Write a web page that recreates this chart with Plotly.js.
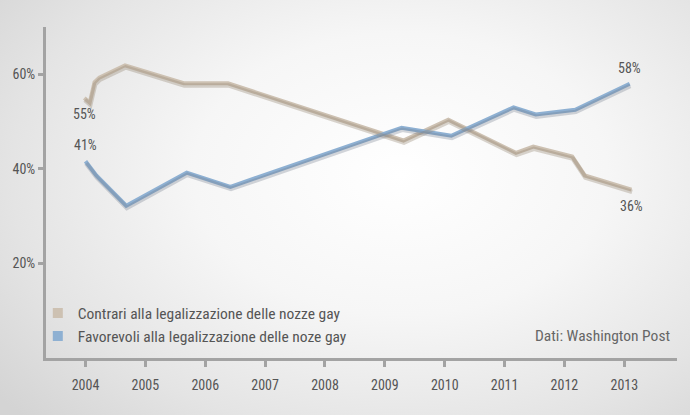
<!DOCTYPE html>
<html>
<head>
<meta charset="utf-8">
<script src="https://cdn.plot.ly/plotly-3.0.1.min.js"></script>
<style>
  html, body { margin: 0; padding: 0; }
  body {
    width: 690px; height: 415px; overflow: hidden;
    background: radial-gradient(ellipse 75% 85% at 58% 42%, #ffffff 0%, #f6f6f6 40%, #e4e4e4 75%, #d4d4d4 100%);
  }
  #chart { width: 690px; height: 415px; }
</style>
</head>
<body>
<div id="chart"></div>
<script>
// sondaggi Washington Post (anno decimale)
const contrariAnni = [2003.98, 2004.07, 2004.15, 2004.23, 2004.66, 2005.64, 2006.38, 2009.31, 2010.06, 2011.19, 2011.48, 2012.13, 2012.34, 2013.12];
const contrariVal  = [55, 54, 58.3, 59.3, 61.9, 58.1, 58.1, 46.0, 50.4, 43.4, 44.7, 42.6, 38.6, 35.6];
const favorevoliAnni = [2004.0, 2004.18, 2004.68, 2005.69, 2006.42, 2009.28, 2010.11, 2011.15, 2011.52, 2012.18, 2013.09];
const favorevoliVal  = [41.6, 38.6, 32.2, 39.2, 36.2, 48.7, 47.0, 53.0, 51.5, 52.5, 58.0];
const anniTick = [2004, 2005, 2006, 2007, 2008, 2009, 2010, 2011, 2012, 2013];
const percTick = [20, 40, 60];
const nomi = ['Contrari alla legalizzazione delle nozze gay', 'Favorevoli alla legalizzazione delle noze gay'];
const etichette = [
  { serie: 0, idx: 0, testo: '55%', pos: 'sotto' },
  { serie: 1, idx: 0, testo: '41%', pos: 'sopra' },
  { serie: 1, idx: -1, testo: '58%', pos: 'sopra' },
  { serie: 0, idx: -1, testo: '36%', pos: 'sotto' }
];

const FONT = '"Liberation Sans Narrow", "Arial Narrow", "Roboto Condensed", Arial, sans-serif';
const TAN = '#cdc1b2';
const BLU = '#8eb0d2';

const serie = [
  { x: contrariAnni, y: contrariVal, colore: TAN, ombra: 'rgba(150,135,115,0.35)' },
  { x: favorevoliAnni, y: favorevoliVal, colore: BLU, ombra: 'rgba(110,120,135,0.30)' }
];

const tracce = [];
// ombre (asse y2 leggermente spostato)
serie.forEach(s => {
  tracce.push({ x: s.x, y: s.y, type: 'scatter', mode: 'lines', yaxis: 'y2', xaxis: 'x2',
    line: { color: s.ombra, width: 4.5 }, showlegend: false, hoverinfo: 'skip' });
});
serie.forEach((s, i) => {
  tracce.push({ x: s.x, y: s.y, type: 'scatter', mode: 'lines', name: nomi[i],
    line: { color: s.colore, width: 4 }, showlegend: false });
});
// voci di legenda con quadratini
serie.forEach((s, i) => {
  tracce.push({ x: [null], y: [null], type: 'scatter', mode: 'markers', name: nomi[i],
    marker: { symbol: 'square', size: 10, color: s.colore }, showlegend: true });
});

const annotazioni = etichette.map(e => {
  const s = serie[e.serie];
  const k = e.idx < 0 ? s.x.length + e.idx : e.idx;
  return {
    x: s.x[k], y: s.y[k], xref: 'x', yref: 'y', text: e.testo, showarrow: false,
    yanchor: e.pos === 'sopra' ? 'bottom' : 'top', yshift: e.pos === 'sopra' ? 6 : -6,
    font: { family: FONT, size: 14, color: '#555' }
  };
});
annotazioni.push({
  x: 1, y: 0, xref: 'paper', yref: 'paper', xanchor: 'right', yanchor: 'bottom',
  xshift: -5, yshift: 11, text: 'Dati: Washington Post', showarrow: false,
  font: { family: FONT, size: 15.5, color: '#666' }
});

const xRange = [2003.34, 2013.88];
const yRange = [0, 70];

Plotly.newPlot('chart', tracce, {
  width: 690, height: 415,
  margin: { l: 46, r: 13, t: 27, b: 57 },
  paper_bgcolor: 'rgba(0,0,0,0)', plot_bgcolor: 'rgba(0,0,0,0)',
  font: { family: FONT, color: '#555' },
  xaxis: {
    range: xRange, tickvals: anniTick, ticktext: anniTick.map(String),
    showgrid: false, zeroline: false, showline: true, linecolor: '#a3a3a3', linewidth: 3,
    ticks: 'outside', ticklen: 6, tickwidth: 3, tickcolor: '#a3a3a3',
    tickfont: { family: FONT, size: 14, color: '#555' }, ticklabelstandoff: 6
  },
  yaxis: {
    range: yRange, tickvals: percTick, ticktext: percTick.map(v => v + '%'),
    showgrid: false, zeroline: false, showline: true, linecolor: '#a3a3a3', linewidth: 3,
    ticks: 'outside', ticklen: 5, tickwidth: 3, tickcolor: '#a3a3a3',
    tickfont: { family: FONT, size: 14, color: '#555' }
  },
  xaxis2: { range: [xRange[0] - 0.01, xRange[1] - 0.01], overlaying: 'x', visible: false },
  yaxis2: { range: [yRange[0] + 0.45, yRange[1] + 0.45], overlaying: 'y', visible: false },
  legend: {
    x: -0.013, y: 0.014, xanchor: 'left', yanchor: 'bottom', bgcolor: 'rgba(0,0,0,0)',
    font: { family: FONT, size: 15.5, color: '#555' }, itemwidth: 30, tracegroupgap: 0,
    traceorder: 'normal'
  },
  annotations: annotazioni,
  showlegend: true
}, { displayModeBar: false, staticPlot: true });
</script>
</body>
</html>
